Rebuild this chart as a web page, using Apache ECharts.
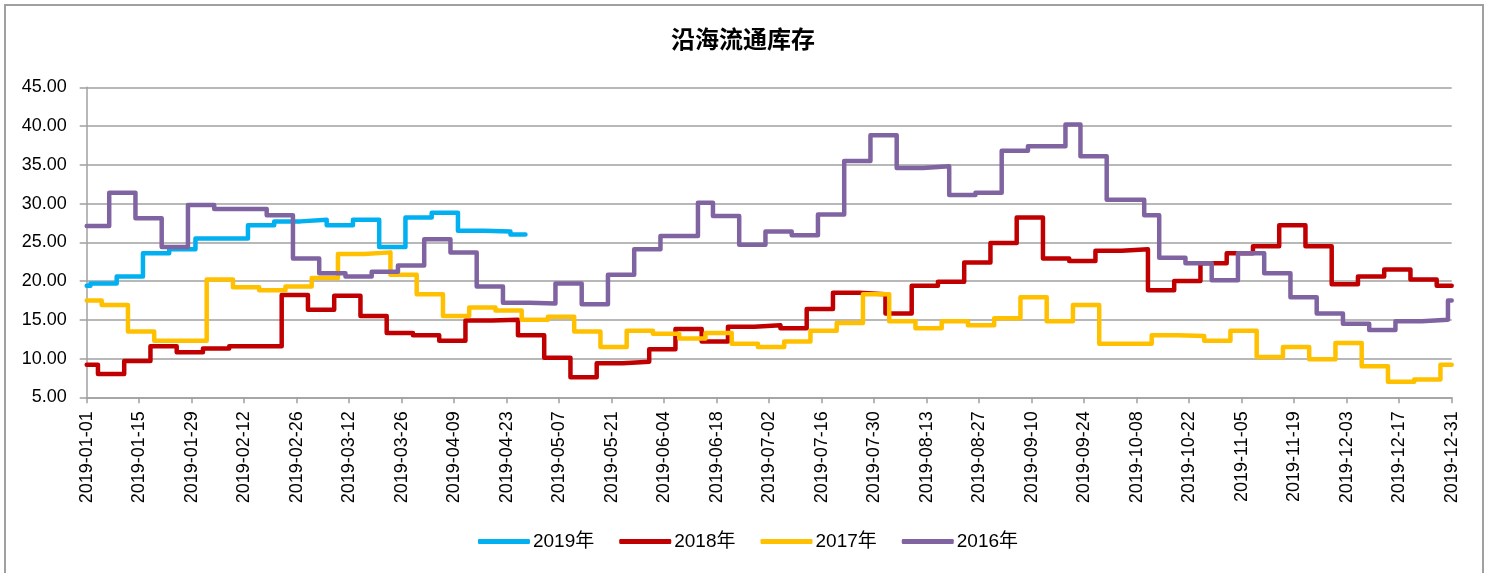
<!DOCTYPE html>
<html>
<head>
<meta charset="utf-8">
<script src="https://cdn.jsdelivr.net/npm/echarts@6/dist/echarts.min.js"></script>
<style>
  html, body { margin: 0; padding: 0; background: #fff; }
  #chart { width: 1496px; height: 573px; }
</style>
</head>
<body>
<div id="chart"></div>
<script>
// weekly readings, placed on the 2019 calendar (MM-DD), value held until the next reading
const s2019 = [
  ['01-01', 19.4], ['01-02', 19.7], ['01-09', 20.6], ['01-16', 23.6], ['01-23', 24.1],
  ['01-30', 25.5], ['02-06', 25.5], ['02-13', 27.2], ['02-20', 27.7], ['02-27', 27.9],
  ['03-06', 27.2], ['03-13', 27.9], ['03-20', 24.4], ['03-27', 28.2], ['04-03', 28.8],
  ['04-10', 26.5], ['04-17', 26.4], ['04-24', 26.0], ['04-28', 26.0]
]
const s2018 = [
  ['01-01', 9.2], ['01-04', 8.0], ['01-11', 9.7], ['01-18', 11.6], ['01-25', 10.8],
  ['02-01', 11.3], ['02-08', 11.6], ['02-15', 11.6], ['02-22', 18.2], ['03-01', 16.3],
  ['03-08', 18.1], ['03-15', 15.5], ['03-22', 13.3], ['03-29', 13.0], ['04-05', 12.3],
  ['04-12', 14.9], ['04-19', 15.0], ['04-26', 13.0], ['05-03', 10.1], ['05-10', 7.6],
  ['05-17', 9.4], ['05-24', 9.6], ['05-31', 11.2], ['06-07', 13.8], ['06-14', 12.2],
  ['06-21', 14.1], ['06-28', 14.3], ['07-05', 13.9], ['07-12', 16.4], ['07-19', 18.5],
  ['07-26', 18.3], ['08-02', 15.8], ['08-09', 19.4], ['08-16', 19.9], ['08-23', 22.4],
  ['08-30', 24.9], ['09-06', 28.2], ['09-13', 22.9], ['09-20', 22.6], ['09-27', 23.9],
  ['10-04', 24.1], ['10-11', 18.8], ['10-18', 20.0], ['10-25', 22.3], ['11-01', 23.6],
  ['11-08', 24.5], ['11-15', 27.2], ['11-22', 24.5], ['11-29', 19.6], ['12-06', 20.6],
  ['12-13', 21.5], ['12-20', 20.2], ['12-27', 19.4], ['12-31', 19.4]
]
const s2017 = [
  ['01-01', 17.5], ['01-05', 16.9], ['01-12', 13.5], ['01-19', 12.3], ['01-26', 12.3],
  ['02-02', 20.2], ['02-09', 19.2], ['02-16', 18.8], ['02-23', 19.3], ['03-02', 20.4],
  ['03-09', 23.5], ['03-16', 23.7], ['03-23', 20.8], ['03-30', 18.3], ['04-06', 15.5],
  ['04-13', 16.6], ['04-20', 16.2], ['04-27', 15.0], ['05-04', 15.4], ['05-11', 13.5],
  ['05-18', 11.5], ['05-25', 13.6], ['06-01', 13.2], ['06-08', 12.6], ['06-15', 13.3],
  ['06-22', 11.9], ['06-29', 11.5], ['07-06', 12.2], ['07-13', 13.6], ['07-20', 14.6],
  ['07-27', 18.3], ['08-03', 14.8], ['08-10', 13.9], ['08-17', 14.8], ['08-24', 14.3],
  ['08-31', 15.2], ['09-07', 17.9], ['09-14', 14.8], ['09-21', 16.9], ['09-28', 11.9],
  ['10-05', 11.9], ['10-12', 13.0], ['10-19', 12.9], ['10-26', 12.3], ['11-02', 13.6],
  ['11-09', 10.2], ['11-16', 11.5], ['11-23', 9.9], ['11-30', 12.0], ['12-07', 9.0],
  ['12-14', 7.0], ['12-21', 7.3], ['12-28', 9.2], ['12-31', 9.2]
]
const s2016 = [
  ['01-01', 27.1], ['01-07', 31.4], ['01-14', 28.1], ['01-21', 24.4], ['01-28', 29.8],
  ['02-04', 29.3], ['02-11', 29.3], ['02-18', 28.5], ['02-25', 22.9], ['03-04', 21.0],
  ['03-11', 20.6], ['03-18', 21.2], ['03-25', 22.0], ['04-01', 25.4], ['04-08', 23.7],
  ['04-15', 19.3], ['04-22', 17.2], ['04-29', 17.1], ['05-06', 19.7], ['05-13', 17.0],
  ['05-20', 20.8], ['05-27', 24.1], ['06-03', 25.8], ['06-13', 30.1], ['06-17', 28.4],
  ['06-24', 24.7], ['07-01', 26.4], ['07-08', 25.9], ['07-15', 28.6], ['07-22', 35.5],
  ['07-29', 38.8], ['08-05', 34.6], ['08-12', 34.8], ['08-19', 31.1], ['08-26', 31.4],
  ['09-02', 36.8], ['09-09', 37.4], ['09-19', 40.2], ['09-23', 36.1], ['09-30', 30.5],
  ['10-10', 28.5], ['10-14', 23.0], ['10-21', 22.3], ['10-28', 20.1], ['11-04', 23.6],
  ['11-11', 21.0], ['11-18', 17.9], ['11-25', 15.8], ['12-02', 14.5], ['12-09', 13.7],
  ['12-16', 14.8], ['12-23', 15.0], ['12-30', 17.5], ['12-31', 17.5]
]

const seriesNames = ['2019年', '2018年', '2017年', '2016年']
const seriesColors = ['#00b0f0', '#c00000', '#ffc000', '#8064a2']
const seriesData = [s2019, s2018, s2017, s2016]

// x axis categories: every day of 2019
const days = []
for (let t = Date.UTC(2019, 0, 1); t <= Date.UTC(2019, 11, 31); t += 86400000) {
  days.push(new Date(t).toISOString().slice(0, 10))
}

const font = '"Liberation Sans", Arial, "Noto Sans CJK SC", sans-serif'
const chart = echarts.init(document.getElementById('chart'), null, { renderer: 'canvas' })

chart.setOption({
  backgroundColor: '#fff',
  animation: false,
  graphic: [{
    type: 'rect',
    shape: { x: 5, y: 5, width: 1478, height: 600 },
    style: { fill: 'none', stroke: '#a0a0a0', lineWidth: 2 },
    silent: true
  }],
  title: {
    text: '沿海流通库存',
    left: 671,
    top: 27,
    padding: 0,
    textStyle: {
      fontFamily: '"Noto Sans CJK SC", sans-serif',
      fontSize: 24,
      fontWeight: 'bold',
      color: '#000'
    }
  },
  legend: {
    data: seriesNames,
    left: 'center',
    top: 527,
    icon: 'roundRect',
    itemWidth: 52,
    itemHeight: 5,
    itemGap: 25,
    textStyle: { fontFamily: font, fontSize: 19, color: '#000', padding: [0, 0, 0, -2] }
  },
  grid: { left: 86.7, right: 44.3, top: 87.3, bottom: 175.7, containLabel: false },
  xAxis: {
    type: 'category',
    data: days,
    boundaryGap: false,
    axisLine: { lineStyle: { color: '#a0a0a0', width: 1.5 } },
    axisTick: { interval: 13, length: 6, lineStyle: { color: '#a0a0a0', width: 1.5 } },
    axisLabel: {
      interval: 13,
      rotate: 90,
      margin: 14,
      fontFamily: font,
      fontSize: 18,
      color: '#000'
    },
    splitLine: { show: false }
  },
  yAxis: {
    type: 'value',
    min: 5,
    max: 45,
    interval: 5,
    axisLine: { show: true, lineStyle: { color: '#a0a0a0', width: 1.5 } },
    axisTick: { show: true, length: 7, lineStyle: { color: '#a0a0a0', width: 1.5 } },
    axisLabel: {
      margin: 20,
      fontFamily: font,
      fontSize: 18,
      color: '#000',
      formatter: v => v.toFixed(2)
    },
    splitLine: { lineStyle: { color: '#a0a0a0', width: 1.5 } }
  },
  series: seriesData.map((d, i) => ({
    name: seriesNames[i],
    type: 'line',
    step: 'end',
    symbol: 'none',
    color: seriesColors[i],
    lineStyle: { width: 4.5, color: seriesColors[i], cap: 'round', join: 'round' },
    data: d.map(p => ['2019-' + p[0], p[1]])
  }))
})
</script>
</body>
</html>
